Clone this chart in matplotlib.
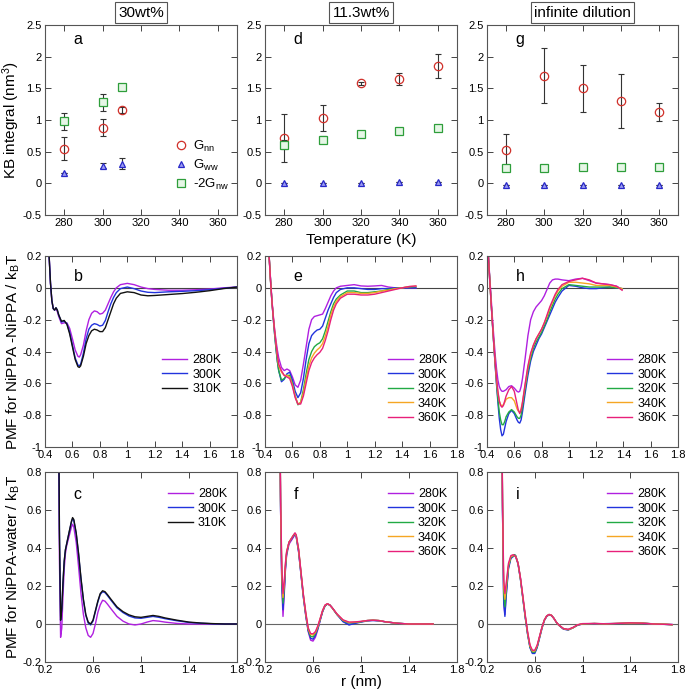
import matplotlib
matplotlib.use("Agg")
import matplotlib.pyplot as plt

plt.rcParams['font.family'] = ['Liberation Sans', 'DejaVu Sans']
plt.rcParams['mathtext.fontset'] = 'custom'
plt.rcParams['mathtext.rm'] = 'Liberation Sans'
plt.rcParams['mathtext.it'] = 'Liberation Sans:italic'

# ---- KB integrals (top row) ----
T_a = [280, 300, 310]
gnn_a = [0.55, 0.88, 1.16]
gnn_a_err = [0.18, 0.14, 0.05]
gww_a = [0.17, 0.28, 0.31]
gww_a_err = [0.0, 0.04, 0.09]
gnw_a = [0.98, 1.28, 1.52]
gnw_a_err = [0.13, 0.13, 0.02]

T_d = [280, 300, 320, 340, 360]
gnn_d = [0.72, 1.03, 1.58, 1.65, 1.85]
gnn_d_err = [0.38, 0.21, 0.02, 0.09, 0.19]
gww_d = [0.0, 0.005, 0.01, 0.015, 0.02]
gww_d_err = [0.0, 0.0, 0.0, 0.0, 0.0]
gnw_d = [0.61, 0.69, 0.78, 0.83, 0.87]
gnw_d_err = [0.07, 0.05, 0.02, 0.03, 0.04]

T_g = [280, 300, 320, 340, 360]
gnn_g = [0.53, 1.70, 1.50, 1.30, 1.13]
gnn_g_err = [0.25, 0.43, 0.37, 0.43, 0.14]
gww_g = [-0.02, -0.02, -0.02, -0.02, -0.02]
gww_g_err = [0.0, 0.0, 0.0, 0.0, 0.0]
gnw_g = [0.25, 0.24, 0.26, 0.26, 0.26]
gnw_g_err = [0.03, 0.03, 0.01, 0.02, 0.01]

# ---- PMF NiPPA-NiPPA (middle row) ----
r_b = [0.42, 0.43, 0.44, 0.45, 0.46, 0.47, 0.48, 0.49, 0.50, 0.52,
       0.54, 0.56, 0.58, 0.60, 0.62, 0.64, 0.65, 0.66, 0.68, 0.70,
       0.72, 0.74, 0.76, 0.78, 0.80, 0.82, 0.84, 0.86, 0.88, 0.90,
       0.92, 0.95, 1.0, 1.05, 1.1, 1.15, 1.2, 1.3, 1.4, 1.5,
       1.6, 1.7, 1.8]
b_280 = [0.45, 0.2, 0.03, -0.08, -0.13, -0.14, -0.13, -0.15, -0.18, -0.225,
         -0.22, -0.22, -0.255, -0.32, -0.39, -0.43, -0.435, -0.42, -0.36, -0.27,
         -0.20, -0.16, -0.145, -0.15, -0.165, -0.16, -0.14, -0.10, -0.06, -0.025,
         0.0, 0.02, 0.028, 0.02, 0.005, -0.005, -0.01, -0.015, -0.015, -0.012,
         -0.008, 0.0, 0.005]
b_300 = [0.45, 0.2, 0.03, -0.08, -0.13, -0.14, -0.125, -0.14, -0.17, -0.215,
         -0.21, -0.225, -0.28, -0.36, -0.44, -0.485, -0.49, -0.48, -0.41, -0.32,
         -0.26, -0.235, -0.225, -0.23, -0.24, -0.235, -0.205, -0.15, -0.10, -0.06,
         -0.03, -0.005, 0.005, -0.005, -0.02, -0.028, -0.03, -0.025, -0.022, -0.018,
         -0.012, -0.003, 0.005]
b_310 = [0.45, 0.2, 0.03, -0.08, -0.13, -0.14, -0.125, -0.14, -0.17, -0.21,
         -0.205, -0.23, -0.29, -0.37, -0.45, -0.495, -0.50, -0.49, -0.43, -0.35,
         -0.30, -0.27, -0.26, -0.265, -0.275, -0.275, -0.25, -0.20, -0.15, -0.10,
         -0.065, -0.035, -0.025, -0.03, -0.045, -0.05, -0.048, -0.042, -0.036, -0.028,
         -0.018, -0.005, 0.005]

r_e = [0.42, 0.43, 0.44, 0.45, 0.46, 0.47, 0.48, 0.49, 0.50, 0.52,
       0.54, 0.56, 0.58, 0.60, 0.62, 0.64, 0.66, 0.68, 0.70, 0.72,
       0.74, 0.76, 0.78, 0.80, 0.82, 0.84, 0.86, 0.88, 0.90, 0.92,
       0.95, 1.0, 1.05, 1.1, 1.15, 1.2, 1.25, 1.3, 1.35, 1.4,
       1.45, 1.5]
e_280 = [0.35, 0.2, 0.06, -0.07, -0.17, -0.26, -0.33, -0.39, -0.44, -0.50,
         -0.52, -0.51, -0.52, -0.56, -0.61, -0.625, -0.58, -0.48, -0.37, -0.26,
         -0.20, -0.18, -0.175, -0.17, -0.165, -0.13, -0.09, -0.05, -0.02, 0.0,
         0.01, 0.015, 0.02, 0.012, 0.01, 0.012, 0.015, 0.005, 0.0, 0.0,
         0.0, 0.0]
e_300 = [0.35, 0.2, 0.05, -0.08, -0.19, -0.29, -0.38, -0.46, -0.52, -0.59,
         -0.575, -0.54, -0.53, -0.58, -0.65, -0.69, -0.66, -0.57, -0.45, -0.35,
         -0.30, -0.28, -0.265, -0.26, -0.24, -0.19, -0.14, -0.10, -0.06, -0.03,
         -0.01, 0.0, 0.0, -0.005, -0.01, -0.01, -0.005, -0.005, 0.0, 0.0,
         0.0, 0.0]
e_320 = [0.35, 0.2, 0.05, -0.08, -0.19, -0.29, -0.38, -0.46, -0.52, -0.58,
         -0.57, -0.55, -0.55, -0.60, -0.68, -0.735, -0.72, -0.64, -0.54, -0.45,
         -0.40, -0.37, -0.355, -0.345, -0.32, -0.27, -0.21, -0.15, -0.10, -0.07,
         -0.045, -0.02, -0.02, -0.03, -0.03, -0.025, -0.02, -0.01, -0.005, 0.0,
         0.005, 0.008]
e_340 = [0.35, 0.2, 0.05, -0.08, -0.18, -0.27, -0.35, -0.43, -0.49, -0.53,
         -0.55, -0.55, -0.56, -0.61, -0.68, -0.73, -0.72, -0.66, -0.57, -0.49,
         -0.44, -0.41, -0.39, -0.375, -0.35, -0.30, -0.24, -0.17, -0.12, -0.085,
         -0.055, -0.03, -0.03, -0.035, -0.035, -0.03, -0.02, -0.015, -0.005, 0.0,
         0.008, 0.01]
e_360 = [0.35, 0.2, 0.05, -0.08, -0.18, -0.27, -0.35, -0.42, -0.48, -0.52,
         -0.55, -0.56, -0.57, -0.62, -0.69, -0.73, -0.73, -0.68, -0.60, -0.52,
         -0.47, -0.44, -0.42, -0.405, -0.38, -0.33, -0.27, -0.20, -0.14, -0.10,
         -0.065, -0.04, -0.04, -0.045, -0.045, -0.04, -0.03, -0.02, -0.01, 0.0,
         0.008, 0.012]

r_h = [0.40, 0.41, 0.42, 0.43, 0.44, 0.45, 0.46, 0.47, 0.48, 0.49,
       0.50, 0.51, 0.52, 0.53, 0.54, 0.56, 0.58, 0.60, 0.62, 0.63,
       0.64, 0.65, 0.66, 0.68, 0.70, 0.72, 0.74, 0.76, 0.78, 0.80,
       0.82, 0.84, 0.86, 0.88, 0.90, 0.92, 0.95, 1.0, 1.05, 1.1,
       1.15, 1.2, 1.25, 1.3, 1.35, 1.39]
h_280 = [0.35, 0.2, 0.07, -0.06, -0.19, -0.31, -0.42, -0.51, -0.58, -0.62,
         -0.64, -0.65, -0.65, -0.645, -0.64, -0.62, -0.615, -0.63, -0.65, -0.655,
         -0.65, -0.62, -0.57, -0.44, -0.30, -0.20, -0.15, -0.12, -0.10, -0.08,
         -0.05, -0.01, 0.03, 0.05, 0.055, 0.055, 0.05, 0.045, 0.055, 0.06,
         0.045, 0.03, 0.025, 0.02, 0.01, -0.01]
h_300 = [0.35, 0.2, 0.05, -0.09, -0.23, -0.36, -0.49, -0.61, -0.72, -0.82,
         -0.89, -0.93, -0.92, -0.88, -0.84, -0.79, -0.77, -0.79, -0.83, -0.845,
         -0.85, -0.83, -0.78, -0.66, -0.55, -0.46, -0.40, -0.36, -0.32, -0.29,
         -0.25, -0.21, -0.17, -0.13, -0.09, -0.06, -0.02, 0.015, 0.01, 0.0,
         -0.005, -0.005, 0.0, 0.005, 0.0, -0.005]
h_320 = [0.35, 0.2, 0.05, -0.09, -0.23, -0.36, -0.48, -0.60, -0.70, -0.78,
         -0.83, -0.86, -0.86, -0.84, -0.81, -0.78, -0.765, -0.78, -0.81, -0.82,
         -0.82, -0.80, -0.75, -0.63, -0.52, -0.44, -0.38, -0.34, -0.31, -0.28,
         -0.24, -0.20, -0.15, -0.11, -0.07, -0.04, -0.005, 0.02, 0.015, 0.01,
         0.005, 0.005, 0.005, 0.005, 0.0, -0.005]
h_340 = [0.35, 0.2, 0.05, -0.09, -0.22, -0.35, -0.47, -0.58, -0.66, -0.71,
         -0.735, -0.74, -0.735, -0.72, -0.70, -0.69, -0.69, -0.71, -0.76, -0.775,
         -0.78, -0.76, -0.72, -0.61, -0.50, -0.42, -0.36, -0.32, -0.29, -0.26,
         -0.22, -0.18, -0.13, -0.09, -0.05, -0.02, 0.01, 0.035, 0.035, 0.03,
         0.025, 0.015, 0.015, 0.015, 0.005, -0.005]
h_360 = [0.35, 0.2, 0.05, -0.09, -0.22, -0.35, -0.47, -0.57, -0.65, -0.71,
         -0.74, -0.75, -0.74, -0.71, -0.68, -0.64, -0.62, -0.65, -0.73, -0.77,
         -0.79, -0.77, -0.72, -0.60, -0.49, -0.41, -0.36, -0.32, -0.29, -0.26,
         -0.22, -0.17, -0.12, -0.08, -0.04, -0.01, 0.02, 0.04, 0.05, 0.06,
         0.05, 0.03, 0.025, 0.02, 0.01, -0.015]

# ---- PMF NiPPA-water (bottom row) ----
r_c = [0.30, 0.31, 0.32, 0.33, 0.34, 0.35, 0.36, 0.37, 0.38, 0.40,
       0.42, 0.43, 0.44, 0.46, 0.48, 0.50, 0.52, 0.54, 0.56, 0.58,
       0.60, 0.62, 0.64, 0.66, 0.68, 0.70, 0.72, 0.75, 0.8, 0.85,
       0.9, 0.95, 1.0, 1.05, 1.1, 1.15, 1.2, 1.3, 1.4, 1.5,
       1.6, 1.7, 1.8]
c_280 = [3.0, 1.3, 0.35, -0.07, -0.02, 0.15, 0.29, 0.37, 0.41, 0.46,
         0.51, 0.525, 0.51, 0.43, 0.30, 0.16, 0.05, -0.02, -0.06, -0.07,
         -0.05, 0.0, 0.06, 0.10, 0.125, 0.12, 0.105, 0.08, 0.04, 0.015,
         0.0, -0.005, 0.0, 0.01, 0.018, 0.015, 0.01, 0.003, 0.0, 0.0,
         0.0, 0.0, 0.0]
c_300 = [3.0, 1.5, 0.5, 0.02, 0.08, 0.22, 0.33, 0.39, 0.42, 0.48,
         0.535, 0.555, 0.545, 0.475, 0.365, 0.235, 0.125, 0.045, 0.005, -0.005,
         0.015, 0.065, 0.115, 0.155, 0.17, 0.165, 0.15, 0.125, 0.085, 0.06,
         0.042, 0.032, 0.03, 0.035, 0.04, 0.035, 0.028, 0.017, 0.008, 0.004,
         0.001, 0.0, 0.0]
c_310 = [3.0, 1.5, 0.5, 0.02, 0.08, 0.22, 0.33, 0.39, 0.42, 0.48,
         0.54, 0.56, 0.55, 0.48, 0.37, 0.24, 0.13, 0.05, 0.01, 0.0,
         0.02, 0.07, 0.12, 0.16, 0.175, 0.17, 0.155, 0.13, 0.09, 0.065,
         0.048, 0.038, 0.035, 0.04, 0.045, 0.04, 0.032, 0.02, 0.01, 0.005,
         0.002, 0.0, 0.0]

r_f = [0.31, 0.32, 0.33, 0.34, 0.35, 0.36, 0.37, 0.38, 0.40, 0.42,
       0.44, 0.45, 0.46, 0.48, 0.50, 0.52, 0.54, 0.56, 0.58, 0.60,
       0.62, 0.64, 0.66, 0.68, 0.70, 0.72, 0.74, 0.76, 0.8, 0.85,
       0.9, 0.95, 1.0, 1.05, 1.1, 1.15, 1.2, 1.3, 1.4, 1.5,
       1.6]
f_280 = [3.0, 1.4, 0.6, 0.2, 0.04, 0.15, 0.28, 0.36, 0.42, 0.44,
         0.46, 0.47, 0.46, 0.38, 0.26, 0.14, 0.04, -0.04, -0.085, -0.09,
         -0.07, -0.03, 0.02, 0.065, 0.095, 0.105, 0.1, 0.085, 0.05, 0.015,
         -0.003, 0.005, 0.012, 0.018, 0.02, 0.018, 0.012, 0.004, 0.0, 0.0,
         0.0]
f_300 = [3.0, 1.4, 0.6, 0.22, 0.075, 0.17, 0.29, 0.37, 0.43, 0.445,
         0.465, 0.47, 0.46, 0.38, 0.26, 0.14, 0.045, -0.035, -0.075, -0.08,
         -0.06, -0.025, 0.02, 0.065, 0.095, 0.105, 0.1, 0.085, 0.05, 0.012,
         -0.005, 0.003, 0.01, 0.016, 0.018, 0.016, 0.012, 0.004, 0.0, 0.0,
         0.0]
f_320 = [3.0, 1.4, 0.62, 0.25, 0.11, 0.19, 0.30, 0.37, 0.43, 0.45,
         0.47, 0.475, 0.465, 0.39, 0.27, 0.15, 0.05, -0.03, -0.065, -0.068,
         -0.05, -0.02, 0.025, 0.068, 0.097, 0.105, 0.1, 0.085, 0.05, 0.018,
         0.005, 0.008, 0.012, 0.018, 0.02, 0.018, 0.012, 0.004, 0.0, 0.0,
         0.0]
f_340 = [3.0, 1.4, 0.64, 0.28, 0.14, 0.21, 0.31, 0.38, 0.43, 0.45,
         0.47, 0.475, 0.465, 0.39, 0.27, 0.15, 0.055, -0.025, -0.055, -0.058,
         -0.045, -0.015, 0.028, 0.07, 0.098, 0.106, 0.1, 0.085, 0.052, 0.02,
         0.008, 0.01, 0.013, 0.018, 0.02, 0.018, 0.012, 0.004, 0.0, 0.0,
         0.0]
f_360 = [3.0, 1.4, 0.66, 0.30, 0.16, 0.22, 0.32, 0.38, 0.43, 0.45,
         0.47, 0.48, 0.47, 0.395, 0.275, 0.155, 0.06, -0.02, -0.05, -0.052,
         -0.04, -0.01, 0.03, 0.072, 0.1, 0.107, 0.1, 0.086, 0.053, 0.022,
         0.01, 0.011, 0.014, 0.018, 0.02, 0.018, 0.012, 0.004, 0.0, 0.0,
         0.0]

r_i = [0.31, 0.32, 0.33, 0.34, 0.35, 0.36, 0.38, 0.40, 0.42, 0.43,
       0.44, 0.46, 0.48, 0.50, 0.52, 0.54, 0.56, 0.58, 0.60, 0.62,
       0.64, 0.66, 0.68, 0.70, 0.72, 0.74, 0.76, 0.78, 0.80, 0.84,
       0.88, 0.92, 0.96, 1.0, 1.1, 1.2, 1.3, 1.4, 1.5, 1.6,
       1.7, 1.75]
i_280 = [3.0, 1.5, 0.6, 0.12, 0.05, 0.15, 0.30, 0.35, 0.36, 0.365,
         0.36, 0.32, 0.24, 0.14, 0.04, -0.05, -0.12, -0.15, -0.15, -0.12,
         -0.07, -0.02, 0.02, 0.04, 0.05, 0.045, 0.03, 0.01, -0.005, -0.025,
         -0.03, -0.02, -0.005, 0.0, 0.002, 0.0, 0.003, 0.005, 0.005, 0.0,
         -0.002, -0.003]
i_300 = [3.0, 1.5, 0.6, 0.11, 0.04, 0.14, 0.29, 0.345, 0.355, 0.36,
         0.355, 0.315, 0.235, 0.135, 0.035, -0.055, -0.125, -0.155, -0.155, -0.125,
         -0.075, -0.025, 0.018, 0.04, 0.048, 0.044, 0.03, 0.01, -0.006, -0.027,
         -0.032, -0.02, -0.006, 0.0, 0.0, 0.002, 0.003, 0.005, 0.004, 0.0,
         -0.002, -0.003]
i_320 = [3.0, 1.5, 0.62, 0.16, 0.09, 0.17, 0.30, 0.35, 0.36, 0.365,
         0.36, 0.32, 0.24, 0.14, 0.04, -0.05, -0.12, -0.148, -0.148, -0.12,
         -0.07, -0.02, 0.02, 0.042, 0.05, 0.046, 0.03, 0.01, -0.005, -0.025,
         -0.03, -0.02, -0.005, 0.0, 0.003, 0.0, 0.002, 0.006, 0.004, 0.001,
         -0.002, -0.004]
i_340 = [3.0, 1.5, 0.64, 0.2, 0.13, 0.19, 0.31, 0.355, 0.36, 0.36,
         0.355, 0.32, 0.24, 0.145, 0.045, -0.045, -0.115, -0.142, -0.142, -0.115,
         -0.068, -0.02, 0.02, 0.042, 0.05, 0.046, 0.03, 0.01, -0.005, -0.024,
         -0.03, -0.02, -0.004, 0.001, 0.002, 0.001, 0.004, 0.005, 0.005, 0.0,
         -0.001, -0.004]
i_360 = [3.0, 1.5, 0.66, 0.23, 0.16, 0.21, 0.32, 0.36, 0.365, 0.36,
         0.355, 0.32, 0.245, 0.15, 0.05, -0.04, -0.11, -0.138, -0.138, -0.112,
         -0.065, -0.018, 0.02, 0.043, 0.05, 0.046, 0.03, 0.01, -0.004, -0.024,
         -0.028, -0.018, -0.004, 0.002, 0.003, 0.001, 0.003, 0.006, 0.004, 0.0,
         -0.002, -0.003]

col_titles = ['30wt%', '11.3wt%', 'infinite dilution']
temp_labels = ['280K', '300K', '320K', '340K', '360K']
temp_colors = ['#b020e0', '#2233dd', '#22aa44', '#f5a623', '#e8207a']

W, H = 685, 690
fig = plt.figure(figsize=(W / 100, H / 100), dpi=100)

def px_axes(x0, y0, x1, y1):
    return fig.add_axes([x0 / W, 1 - y1 / H, (x1 - x0) / W, (y1 - y0) / H])

cols = [(45, 237), (265, 457), (487, 678)]
rows = [(25, 215), (256, 447), (472, 662)]

def style(ax):
    ax.tick_params(direction='in', top=True, right=True, length=4,
                   labelsize=8, width=0.7, color='#444444', pad=2.5)
    for s in ax.spines.values():
        s.set_color('#555555')
        s.set_linewidth(0.8)

# top row
top_sets = [(T_a, gnn_a, gnn_a_err, gww_a, gww_a_err, gnw_a, gnw_a_err),
            (T_d, gnn_d, gnn_d_err, gww_d, gww_d_err, gnw_d, gnw_d_err),
            (T_g, gnn_g, gnn_g_err, gww_g, gww_g_err, gnw_g, gnw_g_err)]
letters_top = ['a', 'd', 'g']
for k, (T, gnn, gnn_e, gww, gww_e, gnw, gnw_e) in enumerate(top_sets):
    ax = px_axes(cols[k][0], rows[0][0], cols[k][1], rows[0][1])
    style(ax)
    ekw = dict(fmt='none', ecolor='#333333', elinewidth=0.8, capsize=2, capthick=0.8)
    ax.errorbar(T, gnn, yerr=gnn_e, **ekw)
    ax.errorbar(T, gww, yerr=gww_e, **ekw)
    ax.errorbar(T, gnw, yerr=gnw_e, **ekw)
    ax.plot(T, gnn, 'o', ms=6, mfc='none', mec='#d0302a', mew=0.9,
            label=r'G$_{\rm nn}$')
    ax.plot(T, gww, '^', ms=4.5, mfc='#9c9cf0', mec='#2828c8', mew=0.9,
            label=r'G$_{\rm ww}$')
    ax.plot(T, gnw, 's', ms=5.5, mfc='#e6f6e6', mec='#2e9e3a', mew=0.9,
            label=r'-2G$_{\rm nw}$')
    ax.set_xlim(270, 370)
    ax.set_ylim(-0.5, 2.5)
    ax.set_xticks([280, 300, 320, 340, 360])
    ax.set_yticks([-0.5, 0, 0.5, 1, 1.5, 2, 2.5])
    ax.set_yticklabels(['-0.5', '0', '0.5', '1', '1.5', '2', '2.5'])
    ax.text(0.15, 0.9, letters_top[k], transform=ax.transAxes, fontsize=11.5)
    ax.set_title(col_titles[k], fontsize=11, pad=6,
                 bbox=dict(facecolor='white', edgecolor='#555555', lw=0.8, pad=2.5))
    if k == 0:
        ax.set_ylabel(r'KB integral (nm$^3$)', fontsize=11)
        ax.yaxis.set_label_coords(-0.12, 0.5)
        ax.legend(loc='upper left', bbox_to_anchor=(0.68, 0.40), frameon=False,
                  fontsize=9.5, handlelength=0.8, handletextpad=0.5,
                  labelspacing=0.3, borderpad=0, borderaxespad=0)
    if k == 1:
        ax.set_xlabel('Temperature (K)', fontsize=11, labelpad=3)

# middle row
mid_sets = [(r_b, [b_280, b_300, b_310], ['280K', '300K', '310K'],
             ['#b020e0', '#2233dd', '#111111']),
            (r_e, [e_280, e_300, e_320, e_340, e_360], temp_labels, temp_colors),
            (r_h, [h_280, h_300, h_320, h_340, h_360], temp_labels, temp_colors)]
letters_mid = ['b', 'e', 'h']
mid_leg = [(0.61, 0.485), (0.64, 0.485), (0.63, 0.485)]
for k, (r, curves, labs, cols_) in enumerate(mid_sets):
    ax = px_axes(cols[k][0], rows[1][0], cols[k][1], rows[1][1])
    style(ax)
    ax.axhline(0, color='#444444', lw=0.8)
    for y, lab, c in zip(curves, labs, cols_):
        ax.plot(r, y, color=c, lw=1.0, label=lab)
    ax.set_xlim(0.4, 1.8)
    ax.set_ylim(-1, 0.2)
    ax.set_xticks([0.4, 0.6, 0.8, 1.0, 1.2, 1.4, 1.6, 1.8])
    ax.set_xticklabels(['0.4', '0.6', '0.8', '1', '1.2', '1.4', '1.6', '1.8'])
    ax.set_yticks([-1, -0.8, -0.6, -0.4, -0.2, 0, 0.2])
    ax.set_yticklabels(['-1', '-0.8', '-0.6', '-0.4', '-0.2', '0', '0.2'])
    ax.text(0.15, 0.87, letters_mid[k], transform=ax.transAxes, fontsize=11.5)
    ax.legend(loc='upper left', bbox_to_anchor=mid_leg[k], frameon=False,
              fontsize=9, handlelength=2.0, handletextpad=0.4,
              labelspacing=0.2, borderpad=0, borderaxespad=0)
    if k == 0:
        ax.set_ylabel(r'PMF for NiPPA -NiPPA / k$_{\rm B}$T', fontsize=11)
        ax.yaxis.set_label_coords(-0.12, 0.5)

# bottom row
bot_sets = [(r_c, [c_280, c_300, c_310], ['280K', '300K', '310K'],
             ['#b020e0', '#2233dd', '#111111']),
            (r_f, [f_280, f_300, f_320, f_340, f_360], temp_labels, temp_colors),
            (r_i, [i_280, i_300, i_320, i_340, i_360], temp_labels, temp_colors)]
letters_bot = ['c', 'f', 'i']
bot_leg = [(0.64, 0.915), (0.64, 0.915), (0.63, 0.915)]
for k, (r, curves, labs, cols_) in enumerate(bot_sets):
    ax = px_axes(cols[k][0], rows[2][0], cols[k][1], rows[2][1])
    style(ax)
    ax.axhline(0, color='#666666', lw=0.8)
    for y, lab, c in zip(curves, labs, cols_):
        ax.plot(r, y, color=c, lw=1.0, label=lab)
    ax.set_xlim(0.2, 1.8)
    ax.set_ylim(-0.2, 0.8)
    ax.set_xticks([0.2, 0.6, 1.0, 1.4, 1.8])
    ax.set_xticklabels(['0.2', '0.6', '1', '1.4', '1.8'])
    ax.set_yticks([-0.2, 0, 0.2, 0.4, 0.6, 0.8])
    ax.set_yticklabels(['-0.2', '0', '0.2', '0.4', '0.6', '0.8'])
    ax.text(0.15, 0.86, letters_bot[k], transform=ax.transAxes, fontsize=11.5)
    ax.legend(loc='upper left', bbox_to_anchor=bot_leg[k], frameon=False,
              fontsize=9, handlelength=2.0, handletextpad=0.4,
              labelspacing=0.2, borderpad=0, borderaxespad=0)
    if k == 0:
        ax.set_ylabel(r'PMF for NiPPA-water / k$_{\rm B}$T', fontsize=11)
        ax.yaxis.set_label_coords(-0.12, 0.5)
    if k == 1:
        ax.set_xlabel('r (nm)', fontsize=11, labelpad=0)

fig.savefig('out.png', dpi=100)
